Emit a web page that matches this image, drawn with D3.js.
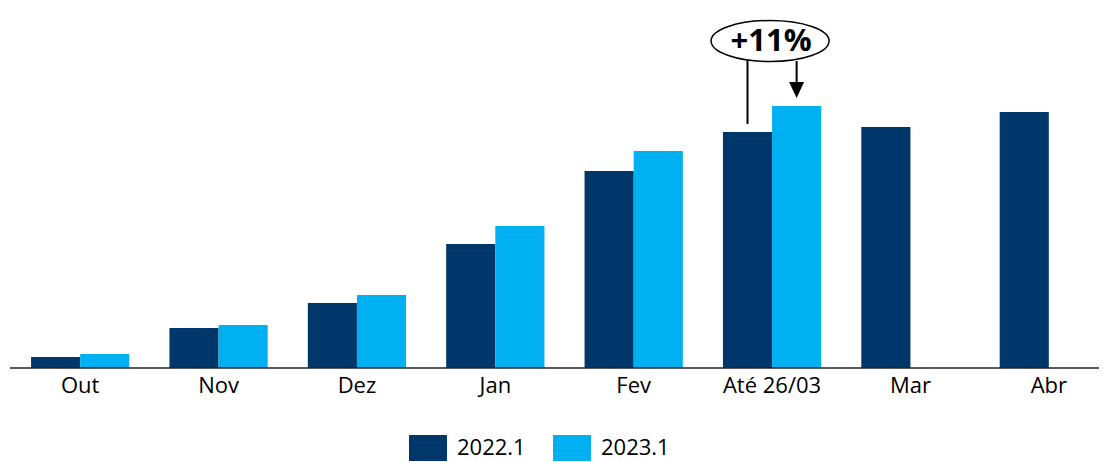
<!DOCTYPE html>
<html>
<head>
<meta charset="utf-8">
<script src="https://cdn.jsdelivr.net/npm/d3@7"></script>
<style>
  body { margin: 0; background: #fff; }
  text { font-family: "Open Sans", "Liberation Sans", sans-serif; }
</style>
</head>
<body>
<script>
var categories = ["Out", "Nov", "Dez", "Jan", "Fev", "Até 26/03", "Mar", "Abr"];
var seriesNames = ["2022.1", "2023.1"];
var values2022 = [11, 40, 65, 124, 197, 236, 241, 256];
var values2023 = [14, 43, 73, 142, 217, 262, null, null];
var colors = ["#00376B", "#00B0F0"];

var w = 1109, h = 462;
var baseY = 368;

var svg = d3.select("body").append("svg")
    .attr("width", w)
    .attr("height", h);

var x = d3.scaleBand()
    .domain(categories)
    .range([11, 1118])
    .paddingInner(0.29)
    .paddingOuter(0.145);

var xSub = d3.scaleBand()
    .domain(seriesNames)
    .range([0, x.bandwidth()]);

var y = d3.scaleLinear()
    .domain([0, 262])
    .range([baseY, 106]);

var rows = [];
categories.forEach(function(c, i){
    rows.push({cat: c, s: "2022.1", v: values2022[i], col: colors[0]});
    if (values2023[i] != null) rows.push({cat: c, s: "2023.1", v: values2023[i], col: colors[1]});
});

svg.selectAll(".bar")
    .data(rows)
    .enter()
    .append("rect")
    .attr("class", "bar")
    .attr("x", function(d){ return x(d.cat) + xSub(d.s); })
    .attr("width", xSub.bandwidth())
    .attr("y", function(d){ return y(d.v); })
    .attr("height", function(d){ return baseY - y(d.v); })
    .style("fill", function(d){ return d.col; });

// axis
var xAxis = d3.axisBottom(x).tickSize(0).tickPadding(9);
var axis = svg.append("g")
    .attr("transform", "translate(0," + baseY + ")")
    .call(xAxis);
axis.select(".domain").remove();
axis.selectAll("text")
    .style("font-size", "22px")
    .style("fill", "#000");
svg.append("line")
    .attr("x1", 10).attr("x2", 1099)
    .attr("y1", baseY).attr("y2", baseY)
    .style("stroke", "#222")
    .style("stroke-width", 1.5);

// annotation
var ai = categories.indexOf("Até 26/03");
var cx = x(categories[ai]) + x.bandwidth() / 2;
var darkX = x(categories[ai]) + xSub("2022.1") + xSub.bandwidth() / 2;
var lightX = x(categories[ai]) + xSub("2023.1") + xSub.bandwidth() / 2;

svg.append("line")
    .attr("x1", darkX).attr("x2", darkX)
    .attr("y1", 61).attr("y2", y(values2022[ai]) - 8)
    .style("stroke", "#000").style("stroke-width", 2);
svg.append("line")
    .attr("x1", lightX).attr("x2", lightX)
    .attr("y1", 61).attr("y2", 84)
    .style("stroke", "#000").style("stroke-width", 2);
svg.append("path")
    .attr("d", "M" + (lightX - 7.5) + ",82L" + (lightX + 7.5) + ",82L" + lightX + ",98Z")
    .style("fill", "#000");

svg.append("ellipse")
    .attr("cx", cx - 2).attr("cy", 41)
    .attr("rx", 59).attr("ry", 20.5)
    .style("fill", "#fff")
    .style("stroke", "#000")
    .style("stroke-width", 1.5);
svg.append("text")
    .attr("x", cx - 1).attr("y", 51)
    .attr("text-anchor", "middle")
    .style("font-size", "31px")
    .style("font-weight", "bold")
    .text("+11%");

// legend
var legend = svg.selectAll(".legend")
    .data(seriesNames)
    .enter()
    .append("g")
    .attr("class", "legend")
    .attr("transform", function(d, i){ return "translate(" + (409 + i * 144) + ",435)"; });
legend.append("rect")
    .attr("width", 38).attr("height", 26)
    .style("fill", function(d, i){ return colors[i]; });
legend.append("text")
    .attr("x", 48).attr("y", 20)
    .style("font-size", "22px")
    .text(function(d){ return d; });
</script>
</body>
</html>
